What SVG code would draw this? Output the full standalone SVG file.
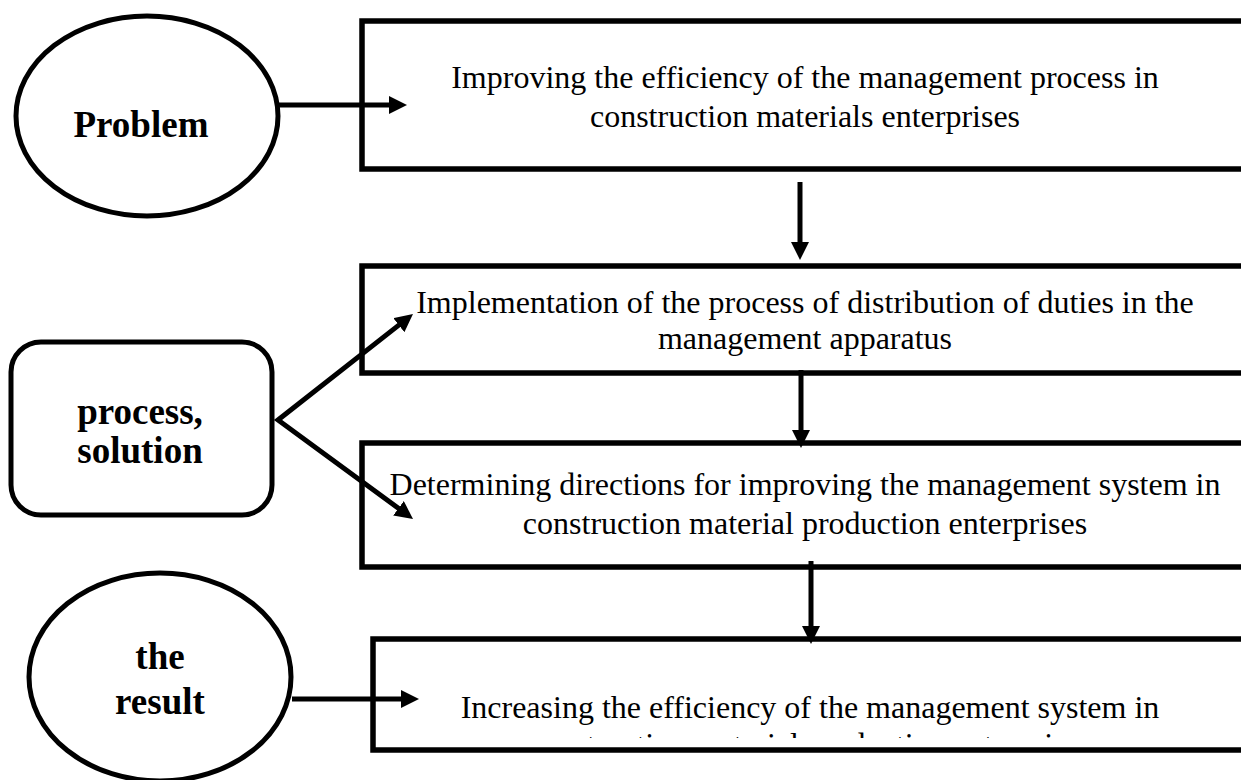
<svg xmlns="http://www.w3.org/2000/svg" width="1241" height="780" viewBox="0 0 1241 780">
<style>
.box{fill:#fff;stroke:#000;stroke-width:5.5}
.shape{fill:#fff;stroke:#000;stroke-width:5}
.txt{font-family:"Liberation Serif","Times New Roman",serif;font-size:32px;fill:#000;text-anchor:middle}
.lbl{font-family:"Liberation Serif","Times New Roman",serif;font-size:37px;font-weight:bold;fill:#000;text-anchor:middle}
.con{fill:none;stroke:#000;stroke-width:5;stroke-linejoin:miter;marker-end:url(#ah)}
</style>
<defs>
<marker id="ah" viewBox="0 0 18 18" refX="2" refY="9" markerWidth="18" markerHeight="18" markerUnits="userSpaceOnUse" orient="auto-start-reverse">
<path d="M0,0 L18,9 L0,18 z" fill="#000"/>
</marker>
<clipPath id="clip4"><rect x="376" y="642" width="900" height="96"/></clipPath>
</defs>
<rect width="1241" height="780" fill="#fff"/>

<g id="problem">
<ellipse class="shape" cx="147" cy="116" rx="131" ry="100"/>
<text class="lbl" x="141" y="137">Problem</text>
</g>

<g id="box1">
<rect class="box" x="362" y="21" width="920" height="148"/>
<text class="txt" x="805" y="88">Improving the efficiency of the management process in</text>
<text class="txt" x="805" y="127">construction materials enterprises</text>
</g>

<g id="solution">
<rect class="shape" x="11" y="342" width="261" height="173" rx="30" ry="30"/>
<text class="lbl" x="140" y="424">process,</text>
<text class="lbl" x="140" y="463">solution</text>
</g>

<g id="box2">
<rect class="box" x="362" y="266" width="920" height="107"/>
<text class="txt" x="805" y="313">Implementation of the process of distribution of duties in the</text>
<text class="txt" x="805" y="349">management apparatus</text>
</g>

<g id="box3">
<rect class="box" x="362" y="443" width="920" height="124"/>
<text class="txt" x="805" y="495">Determining directions for improving the management system in</text>
<text class="txt" x="805" y="534">construction material production enterprises</text>
</g>

<g id="result">
<ellipse class="shape" cx="160" cy="677" rx="131" ry="104"/>
<text class="lbl" x="160" y="669">the</text>
<text class="lbl" x="160" y="714">result</text>
</g>

<g id="box4">
<rect class="box" x="373" y="639" width="910" height="111"/>
<text class="txt" x="810" y="718">Increasing the efficiency of the management system in</text>
<text class="txt" x="810" y="755" clip-path="url(#clip4)">construction material production enterprises</text>
</g>

<g id="connectors">
<path class="con" d="M279,105 L391,105"/>
<path class="con" d="M800,182 L800,244"/>
<path class="con" style="marker-start:url(#ah)" d="M400.4,323.9 L278,420 L400.1,509.5"/>
<path class="con" d="M801,370 L801,432"/>
<path class="con" d="M811,561 L811,628"/>
<path class="con" d="M292,699 L403,699"/>
</g>
</svg>
